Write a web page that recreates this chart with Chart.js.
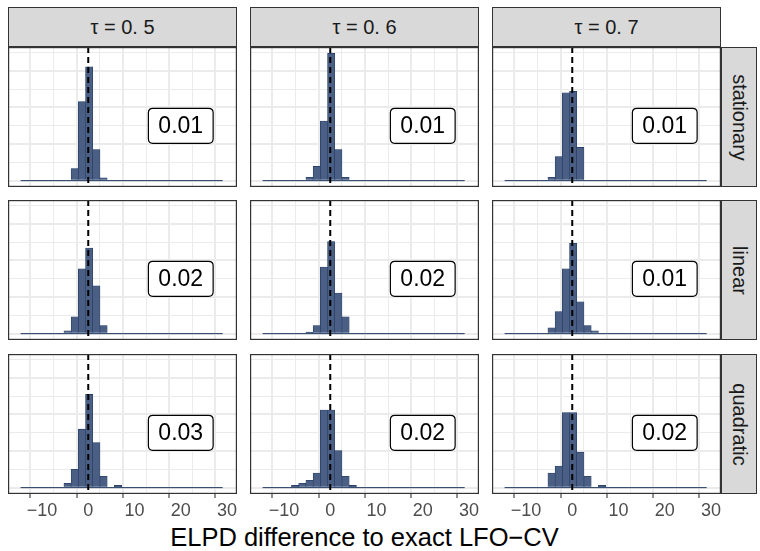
<!DOCTYPE html>
<html>
<head>
<meta charset="utf-8">
<script src="https://cdn.jsdelivr.net/npm/chart.js@4.4.0/dist/chart.umd.min.js"></script>
<style>
  body { margin: 0; background: #fff; width: 760px; height: 551px; position: relative; overflow: hidden;
         font-family: "Liberation Sans", Arial, sans-serif; }
  canvas { position: absolute; }
  .strip { position: absolute; background: #d9d9d9; border: 1px solid #333; box-sizing: border-box;
           display: flex; align-items: center; justify-content: center; color: #1a1a1a; }
  .strip.top { font-size: 20px; }
  .strip.right { font-size: 20px; }
  .strip.right span { transform: rotate(90deg); white-space: nowrap; display: inline-block; }
  #xtitle { position: absolute; left: 8px; width: 713px; top: 525px; text-align: center;
            font-size: 25.5px; line-height: 25px; color: #000; }
</style>
</head>
<body>
<div id="xtitle">ELPD difference to exact LFO−CV</div>
<script>
(function () {
  const tauLabels = ['τ = 0. 5', 'τ = 0. 6', 'τ = 0. 7'];
  const trendLabels = ['stationary', 'linear', 'quadratic'];

  // histogram bins (shared by all panels)
  const binCenters = [-13.84, -12.28, -10.72, -9.16, -7.60, -6.04, -4.48, -2.92, -1.36, 0.20,
    1.76, 3.32, 4.88, 6.44, 8.00, 9.56, 11.12, 12.68, 14.24, 15.80,
    17.36, 18.92, 20.48, 22.04, 23.60, 25.16, 26.72, 28.28];
  const binRange = [-14.62, 29.06];

  // counts per bin, one array per panel
  const stationary05 = [0,0,0,0,0,0,0,33,216,311,85,8,0,0,0,0,0,0,0,0,0,0,0,0,0,0,0,0];
  const stationary06 = [0,0,0,0,0,0,9,39,163,348,85,9,0,0,0,0,0,0,0,0,0,0,0,0,0,0,0,0];
  const stationary07 = [0,0,0,0,0,0,9,66,240,244,91,0,0,0,0,0,0,0,0,0,0,0,0,0,0,0,0,0];
  const linear05 = [0,0,0,0,0,0,8,46,177,234,131,22,0,0,0,0,0,0,0,0,0,0,0,0,0,0,0,0];
  const linear06 = [0,0,0,0,0,0,4,22,182,252,111,46,0,0,0,0,0,0,0,0,0,0,0,0,0,0,0,0];
  const linear07 = [0,0,0,0,0,0,16,60,177,247,87,22,8,0,0,0,0,0,0,0,0,0,0,0,0,0,0,0];
  const quadratic05 = [0,0,0,0,0,0,12,50,160,255,123,31,0,6,0,0,0,0,0,0,0,0,0,0,0,0,0,0];
  const quadratic06 = [0,0,0,0,6,12,20,40,212,212,101,31,6,0,0,0,0,0,0,0,0,0,0,0,0,0,0,0];
  const quadratic07 = [0,0,0,0,0,0,40,59,205,205,97,31,0,6,0,0,0,0,0,0,0,0,0,0,0,0,0,0];

  const panelCounts = [
    [stationary05, stationary06, stationary07],
    [linear05, linear06, linear07],
    [quadratic05, quadratic06, quadratic07],
  ];
  const panelLabels = [
    ['0.01', '0.01', '0.01'],
    ['0.02', '0.02', '0.01'],
    ['0.03', '0.02', '0.02'],
  ];
  const labelPos = { x: 20, y: 150 };
  const refLineX = 0;

  const xMajor = [-10, 0, 10, 20, 30];
  const xGrid = [-15, -10, -5, 0, 5, 10, 15, 20, 25, 30];
  const yGrid = [0, 50, 100, 150, 200, 250, 300, 350];
  const yMajor = [0, 100, 200, 300];
  const xLimits = [-17.35, 32.16];
  const yLimits = [-17.4, 365.4];

  // layout
  const colLeft = [8, 250, 492];
  const rowTop = [47, 200, 354];
  const panelW = 229;
  const panelH = 140;
  const axisH = 36;
  const fontFamily = '"Liberation Sans", Arial, sans-serif';

  const fillColor = '#4a5f83';
  const edgeColor = '#1f3762';

  const isMajorX = (c) => !!(c.tick && xMajor.includes(c.tick.value));
  const isMajorY = (c) => !!(c.tick && yMajor.includes(c.tick.value));

  const panelDecor = {
    id: 'panelDecor',
    afterDatasetsDraw(chart) {
      const { ctx, chartArea: a, scales } = chart;
      const opts = chart.options.plugins.panelDecor;
      const x0 = scales.x.getPixelForValue(refLineX);
      ctx.save();
      ctx.beginPath();
      ctx.rect(a.left, a.top, a.right - a.left, a.bottom - a.top);
      ctx.clip();
      ctx.strokeStyle = '#000';
      ctx.lineWidth = 2;
      ctx.setLineDash([6, 4]);
      ctx.beginPath();
      ctx.moveTo(x0, a.top);
      ctx.lineTo(x0, a.bottom);
      ctx.stroke();
      ctx.setLineDash([]);

      // label box
      const lx = scales.x.getPixelForValue(labelPos.x);
      const ly = scales.y.getPixelForValue(labelPos.y);
      ctx.font = '23px ' + fontFamily;
      const tw = ctx.measureText(opts.text).width;
      const bw = tw + 20;
      const bh = 35;
      const bx = lx - bw / 2;
      const by = ly - bh / 2;
      const r = 4.5;
      ctx.beginPath();
      ctx.moveTo(bx + r, by);
      ctx.lineTo(bx + bw - r, by);
      ctx.quadraticCurveTo(bx + bw, by, bx + bw, by + r);
      ctx.lineTo(bx + bw, by + bh - r);
      ctx.quadraticCurveTo(bx + bw, by + bh, bx + bw - r, by + bh);
      ctx.lineTo(bx + r, by + bh);
      ctx.quadraticCurveTo(bx, by + bh, bx, by + bh - r);
      ctx.lineTo(bx, by + r);
      ctx.quadraticCurveTo(bx, by, bx + r, by);
      ctx.closePath();
      ctx.fillStyle = '#fff';
      ctx.fill();
      ctx.lineWidth = 1.2;
      ctx.strokeStyle = '#000';
      ctx.stroke();
      ctx.fillStyle = '#000';
      ctx.textAlign = 'center';
      ctx.textBaseline = 'middle';
      ctx.fillText(opts.text, lx, ly + 1);
      ctx.restore();
    },
    afterDraw(chart) {
      const { ctx, chartArea: a } = chart;
      ctx.save();
      ctx.strokeStyle = '#333';
      ctx.lineWidth = 1.2;
      ctx.strokeRect(a.left + 0.6, a.top + 0.6, a.right - a.left - 1.2, a.bottom - a.top - 1.2);
      ctx.restore();
    },
  };

  function makePanel(row, col) {
    const bottomRow = row === 2;
    const canvas = document.createElement('canvas');
    canvas.width = panelW;
    canvas.height = panelH + (bottomRow ? axisH : 0);
    canvas.style.left = colLeft[col] + 'px';
    canvas.style.top = rowTop[row] + 'px';
    document.body.appendChild(canvas);

    const counts = panelCounts[row][col];

    new Chart(canvas, {
      type: 'bar',
      data: {
        datasets: [
          {
            type: 'line',
            data: [{ x: binRange[0], y: 0 }, { x: binRange[1], y: 0 }],
            borderColor: edgeColor,
            borderWidth: 1,
            pointRadius: 0,
            pointHitRadius: 0,
            order: 2,
          },
          {
            data: binCenters.map((x, i) => ({ x: x, y: counts[i] })),
            backgroundColor: fillColor,
            borderColor: edgeColor,
            borderWidth: 0.6,
            barPercentage: 1,
            categoryPercentage: 1,
            order: 1,
          },
        ],
      },
      options: {
        responsive: false,
        animation: false,
        events: [],
        layout: { padding: 0, autoPadding: false },
        plugins: {
          legend: { display: false },
          tooltip: { enabled: false },
          panelDecor: { text: panelLabels[row][col] },
        },
        scales: {
          x: {
            type: 'linear',
            min: xLimits[0],
            max: xLimits[1],
            offset: false,
            afterBuildTicks: (s) => { s.ticks = xGrid.map((v) => ({ value: v })); },
            afterFit: (s) => {
              s.height = bottomRow ? axisH : 0;
              s.paddingLeft = 0;
              s.paddingRight = 0;
            },
            border: { display: false },
            grid: {
              color: '#ebebeb',
              lineWidth: (c) => (isMajorX(c) ? 2 : 1),
              drawTicks: bottomRow,
              tickLength: 4,
              tickColor: (c) => (isMajorX(c) ? '#333' : 'rgba(0,0,0,0)'),
              tickWidth: 1.1,
            },
            ticks: {
              display: bottomRow,
              autoSkip: false,
              maxRotation: 0,
              minRotation: 0,
              padding: 2,
              color: '#4d4d4d',
              font: { family: fontFamily, size: 18 },
              callback: (v) => (xMajor.includes(v) ? String(v).replace('-', '−') : ''),
            },
          },
          y: {
            type: 'linear',
            min: yLimits[0],
            max: yLimits[1],
            afterBuildTicks: (s) => { s.ticks = yGrid.map((v) => ({ value: v })); },
            afterFit: (s) => { s.width = 0; },
            border: { display: false },
            grid: {
              color: '#ebebeb',
              lineWidth: (c) => (isMajorY(c) ? 2 : 1),
              drawTicks: false,
            },
            ticks: { display: false },
          },
        },
      },
      plugins: [panelDecor],
    });
  }

  for (let r = 0; r < 3; r += 1) {
    for (let c = 0; c < 3; c += 1) {
      makePanel(r, c);
    }
  }

  // facet strips
  tauLabels.forEach((t, c) => {
    const d = document.createElement('div');
    d.className = 'strip top';
    d.style.left = colLeft[c] + 'px';
    d.style.top = '7px';
    d.style.width = panelW + 'px';
    d.style.height = '40px';
    d.textContent = t;
    document.body.appendChild(d);
  });
  trendLabels.forEach((t, r) => {
    const d = document.createElement('div');
    d.className = 'strip right';
    d.style.left = '721px';
    d.style.top = rowTop[r] + 'px';
    d.style.width = '36px';
    d.style.height = panelH + 'px';
    const s = document.createElement('span');
    s.textContent = t;
    d.appendChild(s);
    document.body.appendChild(d);
  });
})();
</script>
</body>
</html>
